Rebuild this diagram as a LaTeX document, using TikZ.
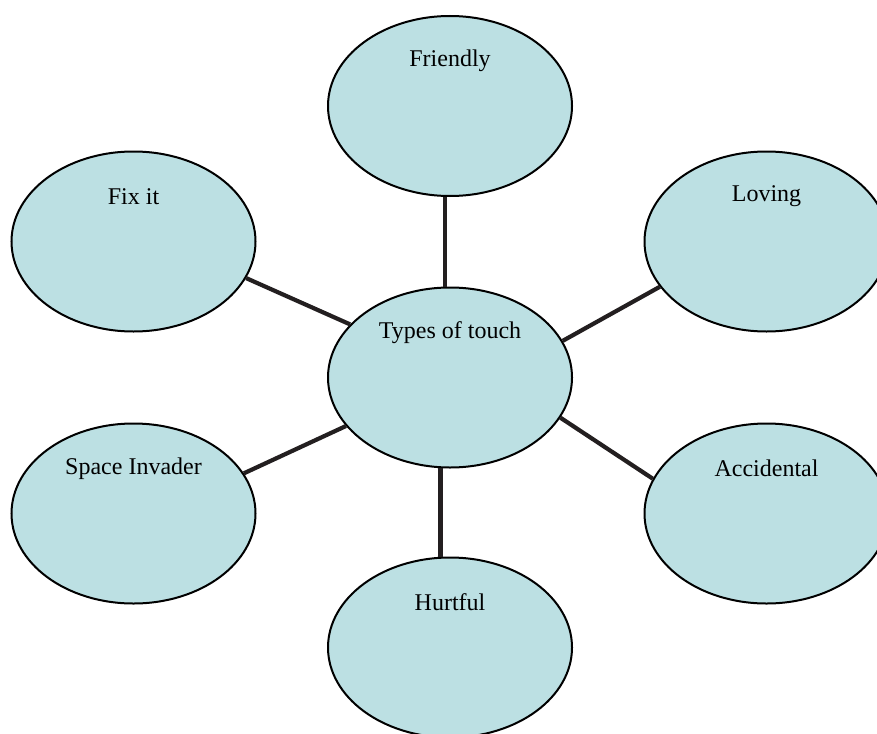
\documentclass[tikz,border=0pt]{standalone}
\usepackage{fontspec}
\setmainfont{Liberation Serif}
\usepackage{tikz}
\usetikzlibrary{shapes.geometric}
\definecolor{touchblue}{RGB}{188,224,227}
\definecolor{spoke}{RGB}{35,31,32}
\tikzset{bubble/.style = {ellipse, draw, line width = 1pt, fill = touchblue,
                          minimum width = 122pt, minimum height = 90pt, inner sep = 0}}
\tikzset{tag/.style = {font = \fontsize{12}{14}\selectfont, yshift = 22.5pt}}
\tikzset{link/.style = {draw = spoke, line width = 2.1pt}}

\begin{document}
\begin{tikzpicture}[x = 0.5pt, y = -0.5pt]
      \useasboundingbox (0, 0) rectangle (877, 733);
      \node [bubble, label = {[tag]center:Friendly}] (friendly) at (450, 106) {};
      \node [bubble, label = {[tag]center:Fix it}] (fixit) at (133.5, 241.5) {};
      \node [bubble, label = {[tag]center:Loving}] (loving) at (766.5, 241.5) {};
      \node [bubble, label = {[tag]center:Types of touch}] (touch) at (450, 377.5) {};
      \node [bubble, label = {[tag]center:Space Invader}] (invader) at (133.5, 513.5) {};
      \node [bubble, label = {[tag]center:Accidental}] (accidental) at (766.5, 513.5) {};
      \node [bubble, label = {[tag]center:Hurtful}] (hurtful) at (450, 647.5) {};
      \draw [link] (touch.93.8) -- (touch.93.8 |- friendly.south);
      \draw [link] (touch.152.8) -- (fixit.-18.7);
      \draw [link] (touch.18.5) -- (loving.203.2);
      \draw [link] (touch.205.5) -- (invader.20.1);
      \draw [link] (touch.-20.2) -- (accidental.163.7);
      \draw [link] (touch.264.7) -- (touch.264.7 |- hurtful.north);
    \end{tikzpicture}
\end{document}
